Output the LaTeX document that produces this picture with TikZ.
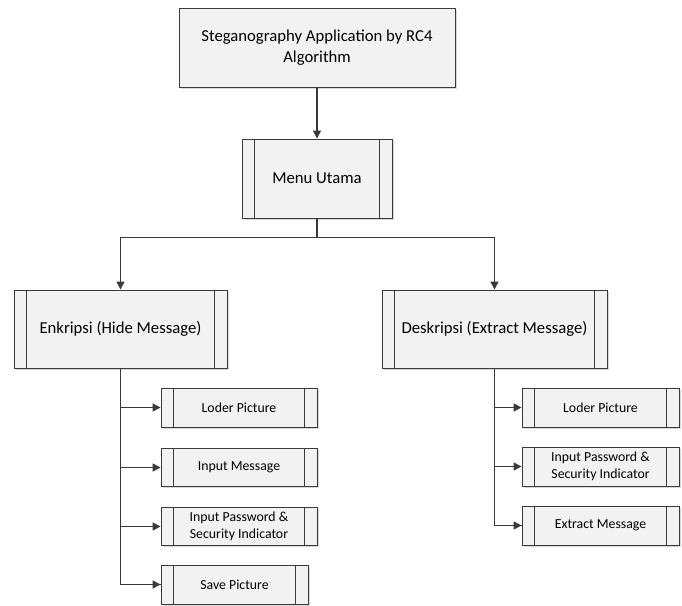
\documentclass[tikz,border=0pt]{standalone}
\usepackage{fontspec}
\setmainfont{Carlito}
\usetikzlibrary{arrows.meta,shadows}
\definecolor{edge}{HTML}{3A3A3A}
\definecolor{boxfill}{HTML}{F2F2F2}
\begin{document}
\begin{tikzpicture}[x=1pt,y=-1pt,
  box/.style={draw=edge, line width=0.9pt, fill=boxfill, inner sep=0pt,
    align=center, text=black,
    drop shadow={shadow xshift=1.5pt, shadow yshift=-1.5pt, fill=black!25, opacity=0.6}},
  procbox/.style={box,
    path picture={
      \draw[edge, line width=0.9pt]
        ([xshift=12.5pt]path picture bounding box.north west) --
        ([xshift=12.5pt]path picture bounding box.south west)
        ([xshift=-12.5pt]path picture bounding box.north east) --
        ([xshift=-12.5pt]path picture bounding box.south east);
    }},
  bigtext/.style={font=\fontsize{16.7}{21}\selectfont},
  smalltext/.style={font=\fontsize{13.8}{17}\selectfont},
  link/.style={draw=edge, line width=1.3pt},
  arrow/.style={link, -{Triangle[length=8pt,width=8pt]}}
]
\useasboundingbox (0,0) rectangle (682,605);

% top level
\node[box, bigtext, minimum width=276pt, minimum height=79pt] (app) at (317,47.5)
  {Steganography Application by RC4\\Algorithm};
\node[procbox, bigtext, minimum width=150pt, minimum height=79pt] (menu) at (317,178.5)
  {Menu Utama};

% second level
\node[procbox, bigtext, minimum width=213pt, minimum height=78pt] (enk) at (120.5,329)
  {Enkripsi (Hide Message)};
\node[procbox, bigtext, minimum width=225pt, minimum height=78pt] (des) at (494.5,329)
  {Deskripsi (Extract Message)};

% hide branch
\node[procbox, smalltext, minimum width=156pt, minimum height=39pt] (hLoad) at (239,407.5) {Loder Picture};
\node[procbox, smalltext, minimum width=156pt, minimum height=38pt] (hMsg) at (239,467.5) {Input Message};
\node[procbox, smalltext, minimum width=156pt, minimum height=38pt] (hPass) at (239,526.5)
  {Input Password \&\\Security Indicator};
\node[procbox, smalltext, minimum width=147pt, minimum height=39pt] (hSave) at (234.5,584.5) {Save Picture};

% extract branch
\node[procbox, smalltext, minimum width=157pt, minimum height=39pt] (xLoad) at (600.5,407.5) {Loder Picture};
\node[procbox, smalltext, minimum width=157pt, minimum height=39pt] (xPass) at (600.5,466.5)
  {Input Password \&\\Security Indicator};
\node[procbox, smalltext, minimum width=157pt, minimum height=39pt] (xMsg) at (600.5,525.5) {Extract Message};

% connectors
\coordinate (split) at (317,237.5);
\draw[arrow] (app.south) -- (menu.north);
\draw[link] (menu.south) -- (split);
\draw[arrow] (split) -| (enk.north);
\draw[arrow] (split) -| (des.north);

\draw[link] (enk.south) |- (hSave.west);
\foreach \n in {hLoad,hMsg,hPass,hSave}
  \draw[arrow] (enk.south |- \n.west) -- (\n.west);

\draw[link] (des.south) |- (xMsg.west);
\foreach \n in {xLoad,xPass,xMsg}
  \draw[arrow] (des.south |- \n.west) -- (\n.west);
\end{tikzpicture}
\end{document}
